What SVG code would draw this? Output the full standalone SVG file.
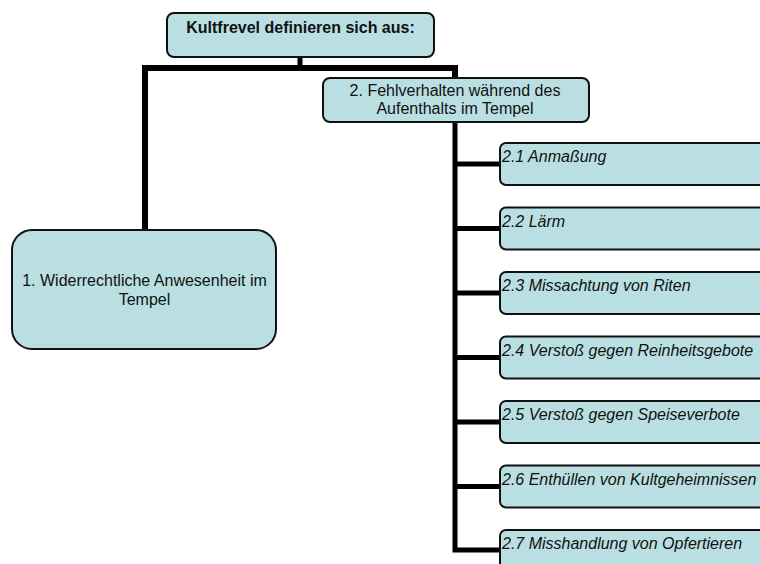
<svg xmlns="http://www.w3.org/2000/svg" width="760" height="564" viewBox="0 0 760 564">
<style>
.box{fill:#BADFE2;stroke:#111;stroke-width:2}
.t{font-family:"Liberation Sans",Arial,sans-serif;font-size:16px;fill:#111}
.c{text-anchor:middle}
.b{font-weight:bold}
.i{font-style:italic}
.con{fill:none;stroke:#000;stroke-linejoin:miter;stroke-linecap:butt}
</style>
<rect width="760" height="564" fill="#fff"/>
<g id="connectors">
<path class="con" stroke-width="5" d="M300,57 V68"/>
<path class="con" stroke-width="6" d="M145,230 V68 H455 V78"/>
<path class="con" stroke-width="5" d="M455,122 V550 H500"/>
<path class="con" stroke-width="5" d="M455,164 H500 M455,228.5 H500 M455,293 H500 M455,357.5 H500 M455,422 H500 M455,486.5 H500"/>
</g>
<g id="root">
<rect class="box" x="167" y="13" width="267" height="44" rx="7"/>
<text class="t c b" x="300.5" y="33">Kultfrevel definieren sich aus:</text>
</g>
<g id="n1">
<rect class="box" x="12" y="230" width="264" height="119" rx="20"/>
<text class="t c" x="144.5" y="286">1. Widerrechtliche Anwesenheit im</text>
<text class="t c" x="144.5" y="305">Tempel</text>
</g>
<g id="n2">
<rect class="box" x="323" y="78" width="266" height="44" rx="7"/>
<text class="t c" x="455" y="96">2. Fehlverhalten während des</text>
<text class="t c" x="455" y="114">Aufenthalts im Tempel</text>
</g>
<g id="n2_1">
<rect class="box" x="500" y="143" width="290" height="42" rx="6"/>
<text class="t i" x="502" y="162">2.1 Anmaßung</text>
</g>
<g id="n2_2">
<rect class="box" x="500" y="207.5" width="290" height="42" rx="6"/>
<text class="t i" x="502" y="226.5">2.2 Lärm</text>
</g>
<g id="n2_3">
<rect class="box" x="500" y="272" width="290" height="42" rx="6"/>
<text class="t i" x="502" y="291">2.3 Missachtung von Riten</text>
</g>
<g id="n2_4">
<rect class="box" x="500" y="336.5" width="290" height="42" rx="6"/>
<text class="t i" x="502" y="355.5">2.4 Verstoß gegen Reinheitsgebote</text>
</g>
<g id="n2_5">
<rect class="box" x="500" y="401" width="290" height="42" rx="6"/>
<text class="t i" x="502" y="420">2.5 Verstoß gegen Speiseverbote</text>
</g>
<g id="n2_6">
<rect class="box" x="500" y="465.5" width="290" height="42" rx="6"/>
<text class="t i" x="502" y="484.5">2.6 Enthüllen von Kultgeheimnissen</text>
</g>
<g id="n2_7">
<rect class="box" x="500" y="530" width="290" height="42" rx="6"/>
<text class="t i" x="502" y="549">2.7 Misshandlung von Opfertieren</text>
</g>
</svg>
